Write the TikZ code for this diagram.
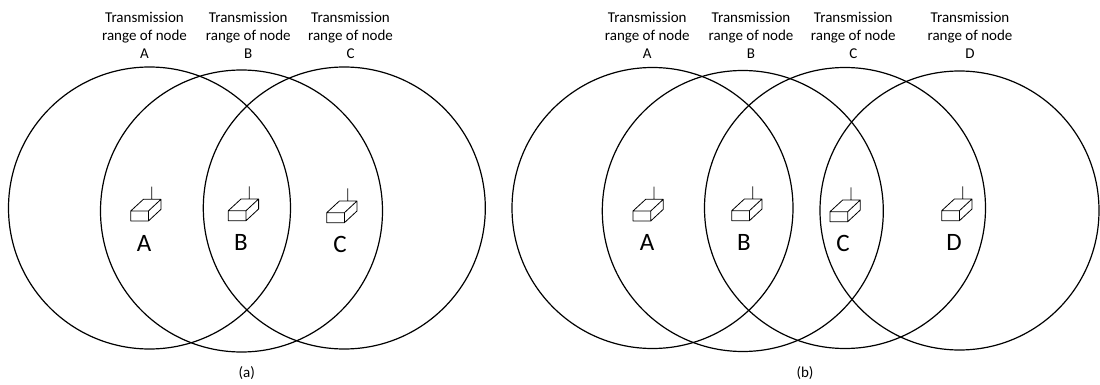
\documentclass[tikz,border=0pt]{standalone}
\usepackage{fontspec}
\setmainfont{Carlito}
\begin{document}
\begin{tikzpicture}[x=1pt,y=-1pt,
  rangecircle/.style={line width=1.2pt},
  titletext/.style={align=center, font=\fontsize{15}{18}\selectfont, inner sep=0pt},
  bigletter/.style={font=\fontsize{25}{30}\selectfont, inner sep=0pt},
  captiontext/.style={font=\fontsize{15}{18}\selectfont, inner sep=0pt},
  radio/.pic={
    \draw[line width=0.8pt, line join=round]
      (0,0) rectangle (17.7,-10)
      (0,-10) -- (12.7,-21.7) -- (30.3,-21.7) -- (17.7,-10)
      (30.3,-21.7) -- (30.3,-11.7) -- (17.7,0)
      (21,-21.7) -- (21,-34.4);
  }]
\useasboundingbox (0,0) rectangle (1100,385);

% ---------- (a) ----------
\coordinate (aA) at (149.5,208);
\coordinate (aB) at (241.5,211);
\coordinate (aC) at (344.3,208);
\draw[rangecircle] (aA) circle [radius=141pt];
\draw[rangecircle] (aB) circle [radius=141pt];
\draw[rangecircle] (aC) circle [radius=141pt];

\node[titletext] (taA) at (144.5,35) {Transmission\\range of node\\A};
\node[titletext] (taB) at (248.3,35) {Transmission\\range of node\\B};
\node[titletext] (taC) at (350.5,35) {Transmission\\range of node\\C};

\pic at (130.7,221) {radio};
\pic at (228.3,220.7) {radio};
\pic at (326.7,222.7) {radio};

\node[bigletter] (laA) at (144,243) {A};
\node[bigletter] (laB) at (241,242) {B};
\node[bigletter] (laC) at (340,244) {C};

\node[captiontext] (capa) at (246.7,373) {(a)};

% ---------- (b) ----------
\coordinate (bA) at (652.5,208);
\coordinate (bB) at (742.8,211);
\coordinate (bC) at (845,208);
\coordinate (bD) at (959.5,210.5);
\draw[rangecircle] (bA) circle [radius=140.5pt];
\draw[rangecircle] (bB) circle [radius=140.5pt];
\draw[rangecircle] (bC) circle [radius=140.5pt];
\draw[rangecircle] (bD) circle [radius=139.5pt];

\node[titletext] (tbA) at (647.3,35) {Transmission\\range of node\\A};
\node[titletext] (tbB) at (751,35) {Transmission\\range of node\\B};
\node[titletext] (tbC) at (853.3,35) {Transmission\\range of node\\C};
\node[titletext] (tbD) at (970,35) {Transmission\\range of node\\D};

\pic at (633,221) {radio};
\pic at (731.7,220.7) {radio};
\pic at (830,221.7) {radio};
\pic at (941.7,220.7) {radio};

\node[bigletter] (lbA) at (647,242) {A};
\node[bigletter] (lbB) at (744,242) {B};
\node[bigletter] (lbC) at (843,243) {C};
\node[bigletter] (lbD) at (954,242) {D};

\node[captiontext] (capb) at (805,373) {(b)};
\end{tikzpicture}
\end{document}
